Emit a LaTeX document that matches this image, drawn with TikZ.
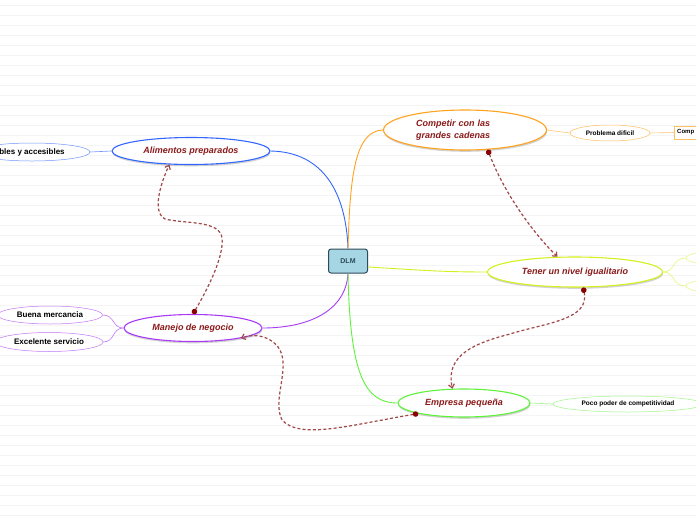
\documentclass[tikz,border=0pt]{standalone}
\usepackage{fontspec}
\setmainfont{Liberation Sans}
\usetikzlibrary{
    arrows.meta,
    shapes.geometric,
    shadows
}

\definecolor{txtred}{HTML}{8B1A1A}
\definecolor{relred}{HTML}{A04848}
\definecolor{dotred}{HTML}{8B0000}
\definecolor{brblue}{HTML}{3366FF}
\definecolor{brorange}{HTML}{FFA21F}
\definecolor{brlime}{HTML}{D4F01E}
\definecolor{brpurple}{HTML}{A93BF5}
\definecolor{brgreen}{HTML}{5EF23A}
\definecolor{dlmfill}{HTML}{A6D5E3}
\definecolor{dlmline}{HTML}{2F4A5A}

\begin{document}
\begin{tikzpicture}[x=1pt, y=-1pt,
    topic/.style={ellipse, draw=#1, line width=1.1pt, fill=white, inner sep=0pt,
                  font=\fontsize{9}{12}\selectfont\bfseries\itshape, text=txtred,
                  drop shadow={opacity=0.35, shadow xshift=0.5pt, shadow yshift=-1.8pt}},
    leaf/.style={ellipse, draw=#1, line width=0.5pt, fill=white, inner sep=0pt,
                 font=\fontsize{6.5}{8}\selectfont\bfseries},
    bigleaf/.style={leaf=#1, font=\fontsize{8}{10}\selectfont\bfseries},
    branch/.style={draw=#1, line width=0.9pt},
    twig/.style={draw=#1, line width=0.6pt},
    relation/.style={draw=relred, line width=1.2pt, dash pattern=on 3pt off 2.2pt,
                     {Circle[length=5.5pt, color=dotred]}-{Straight Barb[length=3.5pt, width=6pt]}}]
    \useasboundingbox (0,0) rectangle (696,520);
    \clip (0,0) rectangle (696,520);
    \fill[white] (0,0) rectangle (696,520);
    \foreach \y in {5,15,...,515}
        \draw[gray!9, line width=0.6pt] (0,\y) -- (696,\y);

    % central idea and main topics
    \node[draw=dlmline, fill=dlmfill, rounded corners=2.5pt, line width=1pt,
          minimum width=39pt, minimum height=24pt, text=dlmline,
          font=\fontsize{7}{8}\selectfont\bfseries] (dlm) at (348,261) {DLM};
    \node[topic=brblue, minimum width=158pt, minimum height=27pt] (alim) at (191,151) {Alimentos preparados};
    \node[topic=brorange, minimum width=163pt, minimum height=40pt,
          text width=98pt, align=left] (comp) at (465,130) {Competir con las\\grandes cadenas};
    \node[topic=brlime, minimum width=175pt, minimum height=30pt] (tener) at (575,272) {Tener un nivel igualitario};
    \node[topic=brpurple, minimum width=138pt, minimum height=27pt] (manejo) at (193,328) {Manejo de negocio};
    \node[topic=brgreen, minimum width=132pt, minimum height=28pt] (empresa) at (464,403) {Empresa pequeña};

    % sub topics
    \node[bigleaf=brblue!70, minimum width=116pt, minimum height=18pt] (acces) at (32,152) {bles y accesibles};
    \node[leaf=brorange!70, minimum width=80pt, minimum height=16pt] (dificil) at (610,133) {Problema dificil};
    \node[draw=brorange!70, fill=white, anchor=west, minimum height=13pt, text width=40pt,
          inner xsep=3pt, font=\fontsize{6}{7}\selectfont\bfseries] (compbox) at (674,132.5) {Comp};
    \node[leaf=brlime!60, minimum width=70pt, minimum height=14pt] (lime1) at (721,258) {};
    \node[leaf=brlime!60, minimum width=70pt, minimum height=14pt] (lime2) at (721,286) {};
    \node[bigleaf=brpurple!70, minimum width=105pt, minimum height=18pt] (buena) at (50,315) {Buena mercancia};
    \node[bigleaf=brpurple!70, minimum width=108pt, minimum height=19pt] (excel) at (49,342) {Excelente servicio};
    \node[leaf=brgreen!60, minimum width=150pt, minimum height=16pt] (poco) at (628,404) {Poco poder de competitividad};

    % branches
    \draw[branch=brblue] (dlm.north) .. controls (346,195) and (325,152) .. (alim.east);
    \draw[branch=brorange] (dlm.north) .. controls (350,175) and (355,131) .. (comp.west);
    \draw[branch=brlime] ([yshift=-6pt]dlm.east) .. controls (420,270) and (440,272) .. (tener.west);
    \draw[branch=brpurple] (dlm.south) .. controls (346,310) and (310,328) .. (manejo.east);
    \draw[branch=brgreen] (dlm.south) .. controls (350,375) and (365,403) .. (empresa.west);

    \draw[twig=brblue!70] (alim.west) -- (acces.east);
    \draw[twig=brorange!60] (comp.east) -- (dificil.west);
    \draw[twig=brorange!60] (dificil.east) -- (compbox.west);
    \draw[twig=brlime!60] (tener.east) .. controls (675,272) and (672,258) .. (lime1.west);
    \draw[twig=brlime!60] (tener.east) .. controls (675,272) and (672,286) .. (lime2.west);
    \draw[twig=brpurple!70] (manejo.west) .. controls (112,328) and (115,315) .. (buena.east);
    \draw[twig=brpurple!70] (manejo.west) .. controls (112,328) and (115,342) .. (excel.east);
    \draw[twig=brgreen!60] (empresa.east) -- (poco.west);

    % relations
    \draw[relation] (manejo.north) .. controls (210,285) and (224,255) .. (222,238)
        .. controls (220,220) and (185,224) .. (165,219)
        .. controls (152,212) and (160,185) .. (alim.212);
    \draw[relation] (comp.319) .. controls (505,195) and (535,235) .. (tener.139);
    \draw[relation] (tener.298) .. controls (590,320) and (545,323) .. (510,334)
        .. controls (475,343) and (445,355) .. (empresa.129);
    \draw[relation] (empresa.193) .. controls (350,425) and (300,440) .. (282,420)
        .. controls (272,400) and (290,370) .. (280,350)
        .. controls (272,336) and (255,333) .. (manejo.348);
\end{tikzpicture}
\end{document}
